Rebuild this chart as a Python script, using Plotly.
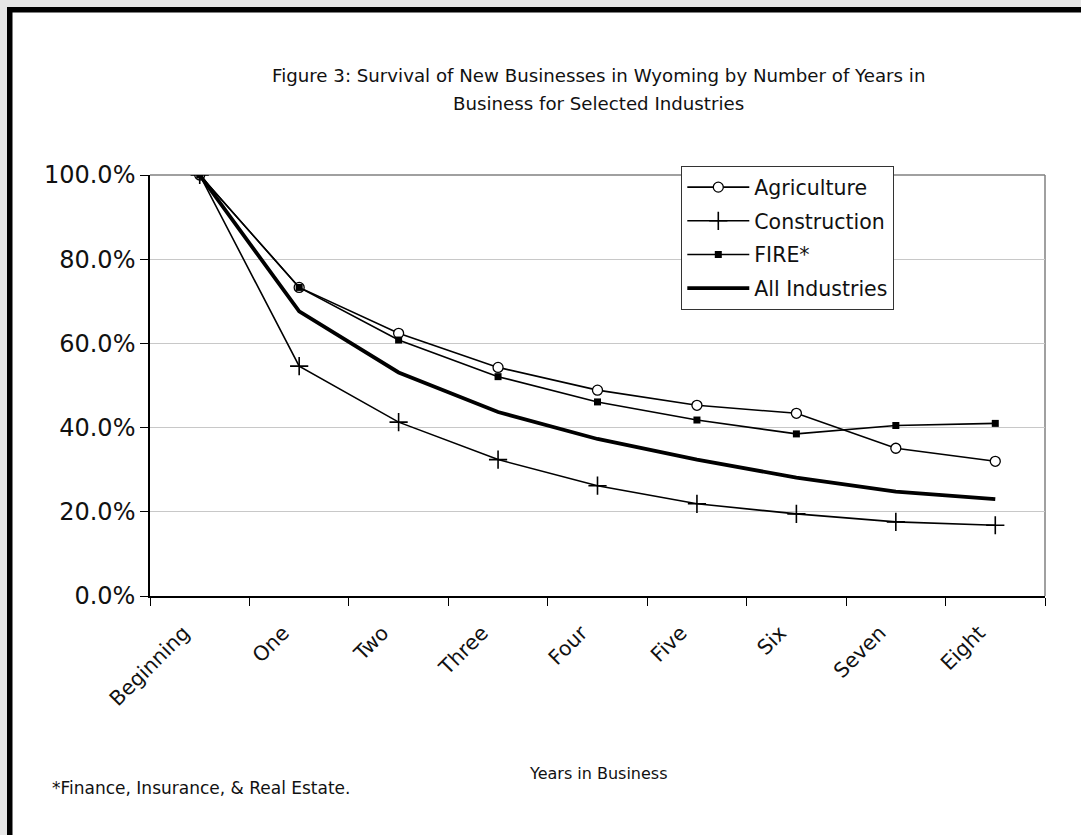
import plotly.graph_objects as go

# Years in business (category axis)
years = ["Beginning", "One", "Two", "Three", "Four", "Five", "Six", "Seven", "Eight"]

# Share of new businesses still operating (fraction of starting cohort)
agriculture = [1.000, 0.733, 0.624, 0.543, 0.489, 0.453, 0.434, 0.351, 0.320]
construction = [1.000, 0.546, 0.413, 0.324, 0.262, 0.219, 0.195, 0.176, 0.168]
fire = [1.000, 0.733, 0.608, 0.521, 0.461, 0.418, 0.385, 0.405, 0.410]
all_industries = [1.000, 0.676, 0.531, 0.437, 0.373, 0.324, 0.281, 0.248, 0.230]

W, H = 1081, 835
L, R, T, B = 150, 36, 175, 239
PW, PH = W - L - R, H - T - B

FONT = "DejaVu Sans"
INK = "#111111"


def px_x(p):
    return (p - L) / PW


def px_y(p):
    return (H - B - p) / PH


fig = go.Figure()

fig.add_trace(go.Scatter(
    x=years, y=agriculture, name="Agriculture", legendgroup="a",
    mode="lines+markers", line=dict(color="black", width=1.6),
    marker=dict(symbol="circle", size=10, color="white",
                line=dict(color="black", width=1.3)),
))
fig.add_trace(go.Scatter(
    x=years, y=construction, name="Construction", legendgroup="c",
    mode="lines+markers", line=dict(color="black", width=1.6),
    marker=dict(symbol="cross-thin", size=13, color="black",
                line=dict(color="black", width=1.6)),
))
fig.add_trace(go.Scatter(
    x=years, y=fire, name="FIRE*", legendgroup="f",
    mode="lines+markers", line=dict(color="black", width=1.6),
    marker=dict(symbol="square", size=7, color="black",
                line=dict(color="black", width=0)),
))
fig.add_trace(go.Scatter(
    x=years, y=all_industries, name="All Industries", legendgroup="i",
    mode="lines", line=dict(color="black", width=3.8),
))

shapes = [
    # gray margin strips and dark frame along top and left edges
    dict(type="rect", xref="paper", yref="paper", x0=px_x(0), x1=px_x(W),
         y0=px_y(0), y1=px_y(7), fillcolor="#e6e6e6", line_width=0, layer="above"),
    dict(type="rect", xref="paper", yref="paper", x0=px_x(0), x1=px_x(7),
         y0=px_y(0), y1=px_y(H), fillcolor="#e6e6e6", line_width=0, layer="above"),
    dict(type="rect", xref="paper", yref="paper", x0=px_x(7), x1=px_x(W),
         y0=px_y(7), y1=px_y(12.5), fillcolor="black", line_width=0, layer="above"),
    dict(type="rect", xref="paper", yref="paper", x0=px_x(7), x1=px_x(12.5),
         y0=px_y(7), y1=px_y(H), fillcolor="black", line_width=0, layer="above"),
    # plot-area border on top and right
    dict(type="line", xref="paper", yref="paper", x0=0, x1=1, y0=1, y1=1,
         line=dict(color="#808080", width=1.5), layer="below"),
    dict(type="line", xref="paper", yref="paper", x0=1, x1=1, y0=0, y1=1,
         line=dict(color="#808080", width=1.5), layer="below"),
]


def note(text, xpx, ypx, size, anchor="center"):
    return dict(text=text, xref="paper", yref="paper", x=px_x(xpx), y=px_y(ypx),
                showarrow=False, xanchor=anchor, yanchor="middle",
                font=dict(family=FONT, size=size, color=INK))


annotations = [
    note("Figure 3: Survival of New Businesses in Wyoming by Number of Years in", 598, 75, 18.2),
    note("Business for Selected Industries", 598, 103, 18.2),
    note("Years in Business", 598, 773, 16),
    note("*Finance, Insurance, & Real Estate.", 50, 788, 17, anchor="left"),
]

fig.update_layout(
    width=W, height=H,
    margin=dict(l=L, r=R, t=T, b=B, autoexpand=False),
    paper_bgcolor="white", plot_bgcolor="white",
    font=dict(family=FONT, size=18, color=INK),
    showlegend=True,
    legend=dict(
        x=px_x(681), y=px_y(166), xanchor="left", yanchor="top",
        bgcolor="white", bordercolor="#333333", borderwidth=1.3,
        font=dict(family=FONT, size=20.5, color=INK),
        tracegroupgap=4, traceorder="grouped", itemwidth=62,
    ),
    shapes=shapes,
    annotations=annotations,
)

fig.update_xaxes(
    type="category", range=[-0.5, 8.5],
    showline=True, linecolor="black", linewidth=1.5,
    ticks="outside", ticklen=8, tickcolor="black", tickwidth=1.3,
    tickson="boundaries", tickangle=-45, showgrid=False,
    ticklabelstandoff=15, ticklabelshift=-16,
    tickfont=dict(family=FONT, size=20.5, color=INK),
)
fig.update_yaxes(
    range=[0, 1], dtick=0.2, tickformat=".1%",
    showline=True, linecolor="black", linewidth=1.5,
    ticks="outside", ticklen=8, tickcolor="black", tickwidth=1.3,
    showgrid=True, gridcolor="#c8c8c8", gridwidth=1, zeroline=False,
    tickfont=dict(family=FONT, size=24, color=INK),
)

fig.write_html("out.html")
